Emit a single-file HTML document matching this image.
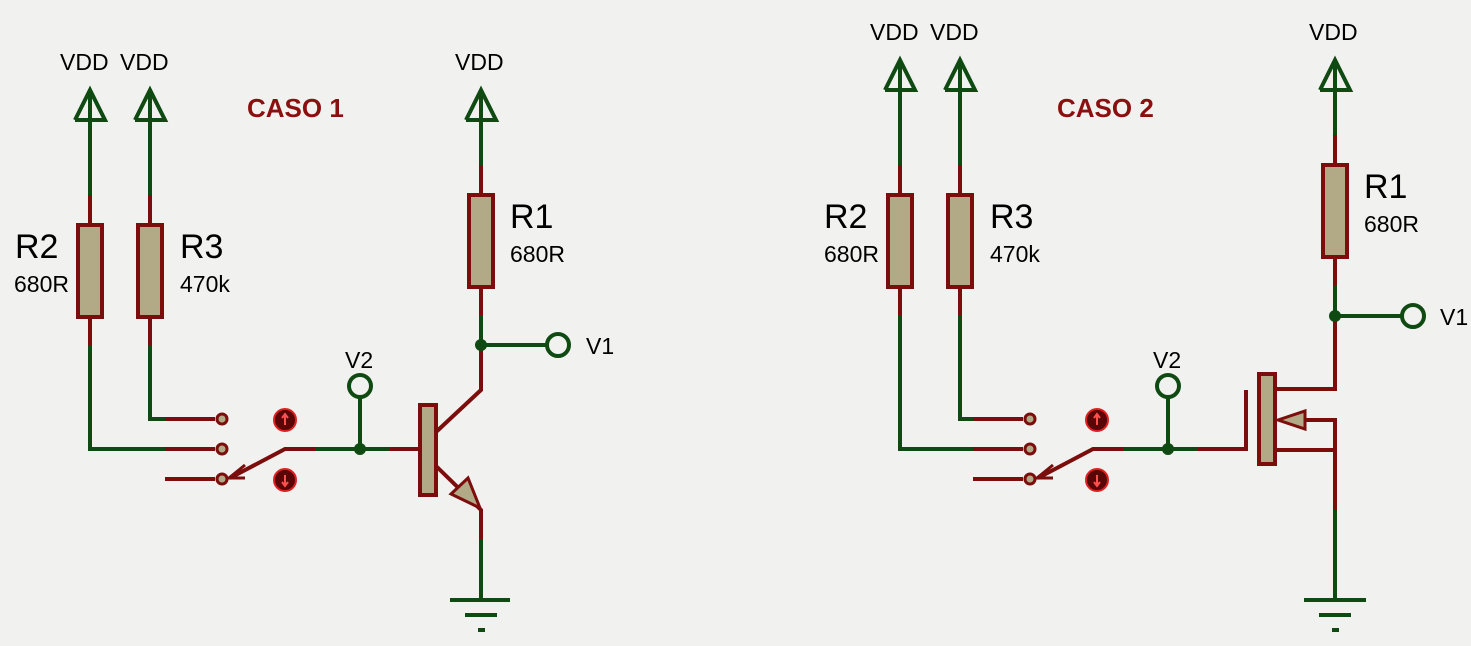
<!DOCTYPE html>
<html><head><meta charset="utf-8"><style>
html,body{margin:0;padding:0;background:#f1f1ef;}
svg{display:block;}
text{font-family:"Liberation Sans",sans-serif;}
</style></head><body>
<svg width="1471" height="646" viewBox="0 0 1471 646" xmlns="http://www.w3.org/2000/svg">
<rect width="1471" height="646" fill="#f1f1ef"/>
<defs>
<g id="vdd"><polyline points="-15,30 0,0 15,30 -15,30" fill="none" stroke="#0f4a12" stroke-width="4" stroke-linejoin="miter"/></g>
</defs>
<g stroke-width="4" fill="none" stroke-linecap="butt">
<line x1="90" y1="92" x2="90" y2="195" stroke="#0f4a12"/>
<line x1="90" y1="195" x2="90" y2="345" stroke="#7b0d0d"/>
<polyline points="90,345 90,449 165,449" stroke="#0f4a12"/>
<line x1="165" y1="449" x2="215" y2="449" stroke="#7b0d0d"/>
<line x1="150" y1="92" x2="150" y2="195" stroke="#0f4a12"/>
<line x1="150" y1="195" x2="150" y2="345" stroke="#7b0d0d"/>
<polyline points="150,345 150,419 165,419" stroke="#0f4a12"/>
<line x1="165" y1="419" x2="215" y2="419" stroke="#7b0d0d"/>
<line x1="165" y1="479" x2="215" y2="479" stroke="#7b0d0d"/>
<polyline points="315,449 285,449 230,478" stroke="#7b0d0d"/>
<polyline points="245,465 229,478 245,478" stroke="#7b0d0d" stroke-width="3"/>
<line x1="315" y1="449" x2="390" y2="449" stroke="#0f4a12"/>
<line x1="390" y1="449" x2="420" y2="449" stroke="#7b0d0d"/>
<line x1="360" y1="397" x2="360" y2="449" stroke="#0f4a12"/>
<polyline points="436,432 481,390 481,345" stroke="#7b0d0d"/>
<polyline points="436,466 481,510 481,540" stroke="#7b0d0d"/>
<line x1="481" y1="540" x2="481" y2="600" stroke="#0f4a12"/>
<polygon points="451,494 468,478 480,508" fill="#b2aa86" stroke="#7b0d0d" stroke-width="3"/>
<line x1="481" y1="92" x2="481" y2="165" stroke="#0f4a12"/>
<line x1="481" y1="165" x2="481" y2="315" stroke="#7b0d0d"/>
<line x1="481" y1="315" x2="481" y2="345" stroke="#0f4a12"/>
<line x1="481" y1="345" x2="546" y2="345" stroke="#0f4a12"/>
<line x1="450" y1="600" x2="510" y2="600" stroke="#0f4a12"/>
<line x1="465" y1="615" x2="497" y2="615" stroke="#0f4a12"/>
<line x1="478" y1="630" x2="485" y2="630" stroke="#0f4a12"/>

<line x1="900" y1="62" x2="900" y2="165" stroke="#0f4a12"/>
<line x1="900" y1="165" x2="900" y2="315" stroke="#7b0d0d"/>
<polyline points="900,315 900,449 973,449" stroke="#0f4a12"/>
<line x1="973" y1="449" x2="1023" y2="449" stroke="#7b0d0d"/>
<line x1="960" y1="62" x2="960" y2="165" stroke="#0f4a12"/>
<line x1="960" y1="165" x2="960" y2="315" stroke="#7b0d0d"/>
<polyline points="960,315 960,419 973,419" stroke="#0f4a12"/>
<line x1="973" y1="419" x2="1023" y2="419" stroke="#7b0d0d"/>
<line x1="973" y1="479" x2="1023" y2="479" stroke="#7b0d0d"/>
<polyline points="1123,449 1093,449 1038,478" stroke="#7b0d0d"/>
<polyline points="1053,465 1037,478 1053,478" stroke="#7b0d0d" stroke-width="3"/>
<line x1="1123" y1="449" x2="1198" y2="449" stroke="#0f4a12"/>
<polyline points="1198,449 1246,449 1246,390" stroke="#7b0d0d"/>
<line x1="1168" y1="397" x2="1168" y2="449" stroke="#0f4a12"/>
<polyline points="1275,389 1335,389 1335,316" stroke="#7b0d0d"/>
<polyline points="1305,420 1335,420 1335,510" stroke="#7b0d0d"/>
<line x1="1275" y1="450" x2="1335" y2="450" stroke="#7b0d0d"/>
<polygon points="1278,420 1305,411 1305,429" fill="#b2aa86" stroke="#7b0d0d" stroke-width="3"/>
<line x1="1335" y1="510" x2="1335" y2="600" stroke="#0f4a12"/>
<line x1="1335" y1="62" x2="1335" y2="135" stroke="#0f4a12"/>
<line x1="1335" y1="135" x2="1335" y2="285" stroke="#7b0d0d"/>
<line x1="1335" y1="285" x2="1335" y2="316" stroke="#0f4a12"/>
<line x1="1335" y1="316" x2="1401" y2="316" stroke="#0f4a12"/>
<line x1="1304" y1="600" x2="1366" y2="600" stroke="#0f4a12"/>
<line x1="1319" y1="615" x2="1351" y2="615" stroke="#0f4a12"/>
<line x1="1332" y1="630" x2="1339" y2="630" stroke="#0f4a12"/>
</g>

<use href="#vdd" x="90" y="90"/><use href="#vdd" x="150" y="90"/><use href="#vdd" x="481" y="90"/>
<use href="#vdd" x="900" y="60"/><use href="#vdd" x="960" y="60"/><use href="#vdd" x="1335" y="60"/>

<g fill="#b2aa86" stroke="#7b0d0d" stroke-width="4">
<rect x="78" y="225" width="24" height="92"/>
<rect x="138" y="225" width="24" height="92"/>
<rect x="469" y="195" width="24" height="92"/>
<rect x="888" y="195" width="24" height="92"/>
<rect x="948" y="195" width="24" height="92"/>
<rect x="1323" y="165" width="24" height="92"/>
<rect x="420" y="405" width="16" height="90"/>
<rect x="1259" y="374" width="16" height="90"/>
</g>

<g fill="#b2aa86" stroke="#7b0d0d" stroke-width="3">
<circle cx="222" cy="419" r="5"/><circle cx="222" cy="449" r="5"/><circle cx="222" cy="479" r="5"/>
<circle cx="1030" cy="419" r="5"/><circle cx="1030" cy="449" r="5"/><circle cx="1030" cy="479" r="5"/>
</g>
<g>
<circle cx="285" cy="420" r="11" fill="#5a0606" stroke="#e02020" stroke-width="2"/>
<circle cx="285" cy="480" r="11" fill="#5a0606" stroke="#e02020" stroke-width="2"/>
<circle cx="1097" cy="420" r="11" fill="#5a0606" stroke="#e02020" stroke-width="2"/>
<circle cx="1097" cy="480" r="11" fill="#5a0606" stroke="#e02020" stroke-width="2"/>
<g stroke="#ff5050" stroke-width="2" fill="none">
<path d="M285,425 V415 M282,418 L285,414 L288,418"/>
<path d="M285,475 V485 M282,482 L285,486 L288,482"/>
<path d="M1097,425 V415 M1094,418 L1097,414 L1100,418"/>
<path d="M1097,475 V485 M1094,482 L1097,486 L1100,482"/>
</g>
</g>

<g fill="#0f4a12">
<circle cx="360" cy="449" r="6"/><circle cx="481" cy="345" r="6"/>
<circle cx="1168" cy="449" r="6"/><circle cx="1335" cy="316" r="6"/>
</g>
<g fill="none" stroke="#0f4a12" stroke-width="4">
<circle cx="360" cy="386" r="11"/><circle cx="558" cy="345" r="11"/>
<circle cx="1168" cy="386" r="11"/><circle cx="1413" cy="316" r="11"/>
</g>

<g fill="#000" font-size="23">
<text x="60" y="70">VDD</text><text x="120" y="70">VDD</text><text x="455" y="70">VDD</text>
<text x="870" y="40">VDD</text><text x="930" y="40">VDD</text><text x="1309" y="40">VDD</text>
<text x="14" y="292">680R</text><text x="180" y="292">470k</text><text x="510" y="262">680R</text>
<text x="824" y="262">680R</text><text x="990" y="262">470k</text><text x="1364" y="232">680R</text>
<text x="345" y="368">V2</text><text x="1153" y="368">V2</text>
<text x="586" y="354">V1</text><text x="1440" y="325">V1</text>
</g>
<g fill="#000" font-size="34">
<text x="15" y="258">R2</text><text x="180" y="258">R3</text><text x="510" y="228">R1</text>
<text x="824" y="228">R2</text><text x="990" y="228">R3</text><text x="1364" y="198">R1</text>
</g>
<g fill="#8a1010" font-size="26" font-weight="bold">
<text x="247" y="117">CASO 1</text><text x="1057" y="117">CASO 2</text>
</g>
</svg>
</body></html>
